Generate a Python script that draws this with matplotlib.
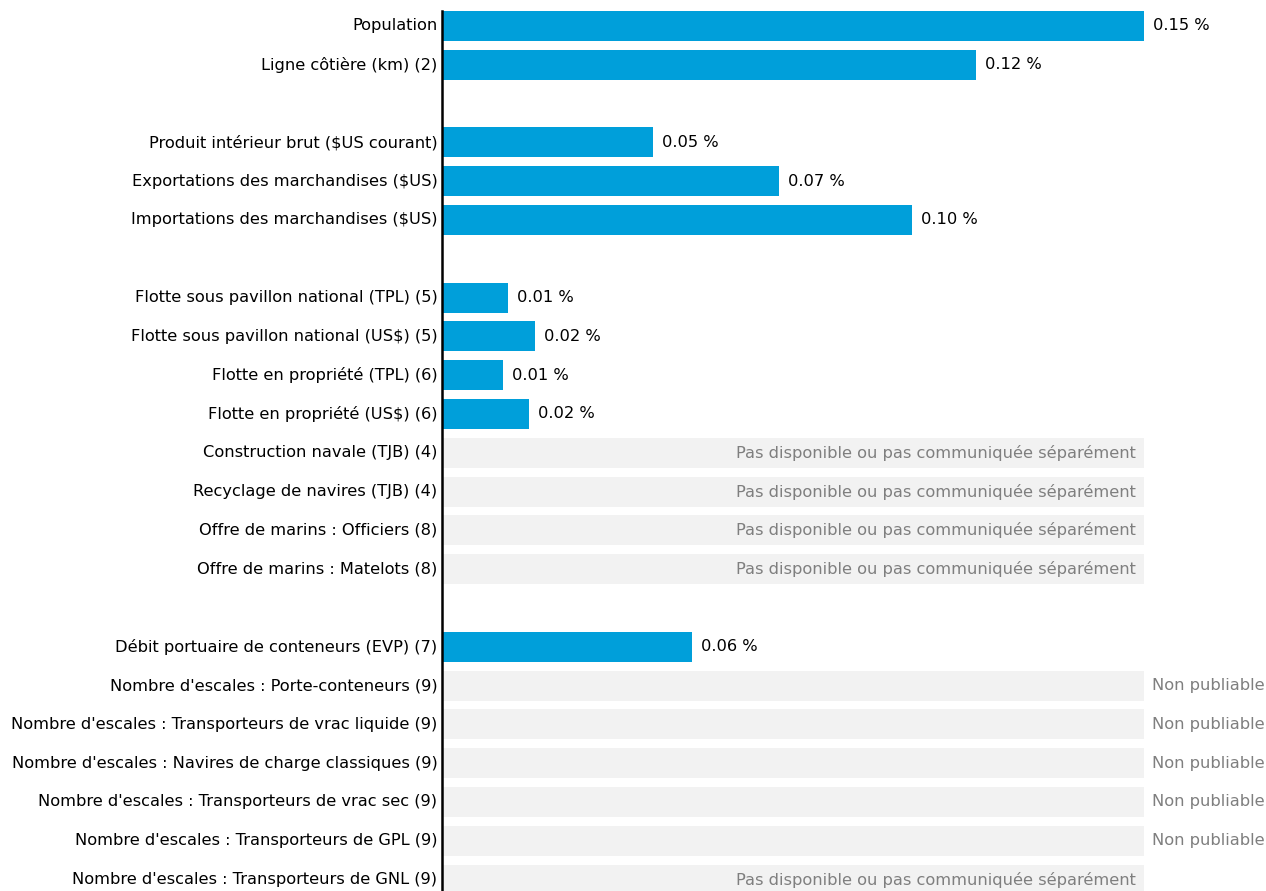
import numpy as np
import matplotlib
matplotlib.use("Agg")
import matplotlib.pyplot as plt

# categories, grouped (None = blank spacer row)
categories = [
    "Population", "Ligne côtière (km) (2)", None,
    "Produit intérieur brut ($US courant)", "Exportations des marchandises ($US)",
    "Importations des marchandises ($US)", None,
    "Flotte sous pavillon national (TPL) (5)", "Flotte sous pavillon national (US$) (5)",
    "Flotte en propriété (TPL) (6)", "Flotte en propriété (US$) (6)",
    "Construction navale (TJB) (4)", "Recyclage de navires (TJB) (4)",
    "Offre de marins : Officiers (8)", "Offre de marins : Matelots (8)", None,
    "Débit portuaire de conteneurs (EVP) (7)",
    "Nombre d'escales : Porte-conteneurs (9)",
    "Nombre d'escales : Transporteurs de vrac liquide (9)",
    "Nombre d'escales : Navires de charge classiques (9)",
    "Nombre d'escales : Transporteurs de vrac sec (9)",
    "Nombre d'escales : Transporteurs de GPL (9)",
    "Nombre d'escales : Transporteurs de GNL (9)",
]
values = [0.155, 0.118, None, 0.0466, 0.0744, 0.1038, None,
          0.0146, 0.0205, 0.0135, 0.0193, None, None, None, None, None,
          0.0552, None, None, None, None, None, None]
labels = ["0.15 %", "0.12 %", "", "0.05 %", "0.07 %", "0.10 %", "",
          "0.01 %", "0.02 %", "0.01 %", "0.02 %", "", "", "", "", "",
          "0.06 %", "", "", "", "", "", ""]
NA = "Pas disponible ou pas communiquée séparément"
NP = "Non publiable"
status = [None, None, None, None, None, None, None,
          None, None, None, None, NA, NA, NA, NA, None,
          None, NP, NP, NP, NP, NP, NA]

xmax = 0.155
blue = "#009fda"
grey_bg = "#f2f2f2"
grey_txt = "#7f7f7f"
fs = 11.7

plt.rcParams["font.family"] = ["DejaVu Sans"]
fig = plt.figure(figsize=(12.66, 8.91), dpi=100)
ax = fig.add_axes([442 / 1266, 0, (1144 - 442) / 1266, (891 - 11) / 891])

for i, cat in enumerate(categories):
    if cat is None:
        continue
    ax.text(-0.001, i, cat, ha="right", va="center", fontsize=fs, color="black")
    if values[i] is not None:
        ax.barh(i, values[i], height=0.77, color=blue)
        ax.text(values[i] + 0.002, i, labels[i], ha="left", va="center",
                fontsize=fs, color="black")
    elif status[i] is not None:
        ax.barh(i, xmax, height=0.77, color=grey_bg)
        if status[i] == NA:
            ax.text(xmax - 0.0017, i, NA, ha="right", va="center",
                    fontsize=fs, color=grey_txt)
        else:
            ax.text(xmax + 0.0017, i, NP, ha="left", va="center",
                    fontsize=fs, color=grey_txt, clip_on=False)

ax.set_xlim(0, xmax)
ax.set_ylim((891 - 26) / 38.8, (11 - 26) / 38.8)
for s in ["top", "right", "bottom"]:
    ax.spines[s].set_visible(False)
ax.spines["left"].set_linewidth(1.8)
ax.set_xticks([])
ax.set_yticks([])
ax.patch.set_alpha(0)

fig.savefig("out.png", dpi=100)
